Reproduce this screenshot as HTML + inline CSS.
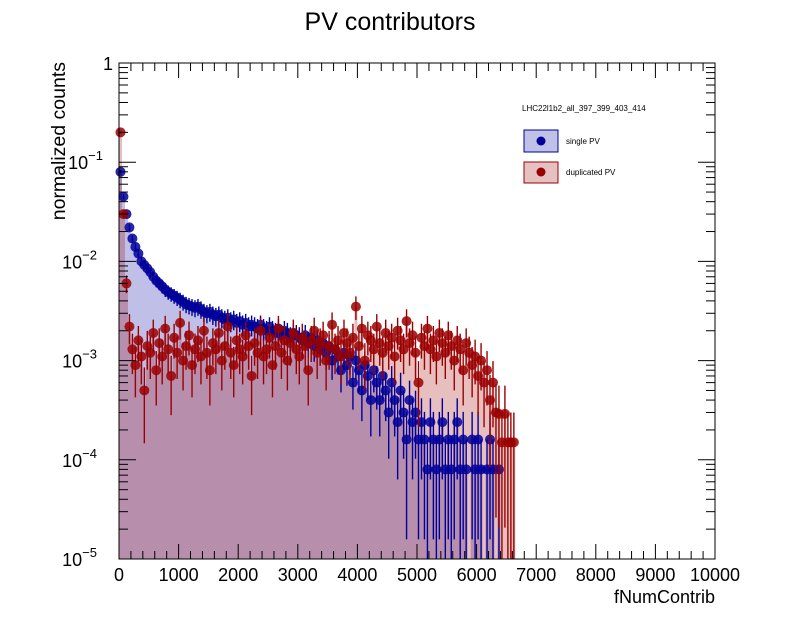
<!DOCTYPE html>
<html><head><meta charset="utf-8"><style>
body{margin:0;background:#fff;}
svg{font-family:"Liberation Sans",sans-serif;}
</style></head><body>
<svg id="c" width="796" height="622" xmlns="http://www.w3.org/2000/svg">
<text x="390" y="30" font-size="25" text-anchor="middle">PV contributors</text>
<text transform="translate(65,62) rotate(-90)" font-size="19.5" text-anchor="end">normalized counts</text>
<text x="715" y="603" font-size="18" text-anchor="end">fNumContrib</text>
<g id="fills"></g><g id="marks"></g><g id="axes"></g>
<g>
<text x="522" y="111" font-size="8">LHC22l1b2_all_397_399_403_414</text>
<rect x="524" y="130" width="34" height="22" fill="#bfc1e6" stroke="#00009a"/>
<circle cx="541" cy="141" r="4.5" fill="#00009a"/>
<text x="566" y="144" font-size="8">single PV</text>
<rect x="524" y="162" width="34" height="21" fill="#e6c1c1" stroke="#9a0000"/>
<circle cx="541" cy="172" r="4.5" fill="#9a0000"/>
<text x="566" y="175" font-size="8">duplicated PV</text>
</g>
</svg>
<script>
const binWidth = 50;
const xTicks = [0,1000,2000,3000,4000,5000,6000,7000,8000,9000,10000];
const yDecades = [0,-1,-2,-3,-4,-5];
const blueUnit = 1.3e-4, redUnit = 2.5e-4;
const singlePV = [0.08,0.045,0.03,0.022,0.017,0.014,0.012,0.010,0.0092,0.0085,
0.0078,0.0070,0.0064,0.0060,0.0056,0.0052,0.0049,0.0047,0.0045,0.0043,
0.0041,0.0039,0.0037,0.0036,0.0035,0.0034,0.0035,0.0033,0.0031,0.0030,
0.0031,0.0029,0.0028,0.0029,0.0027,0.0026,0.0027,0.0025,0.0026,0.0024,
0.0025,0.0023,0.0024,0.0022,0.0023,0.0022,0.0021,0.0023,0.0021,0.0020,
0.0022,0.0020,0.0019,0.0021,0.0018,0.0020,0.0019,0.0017,0.0019,0.0018,
0.0017,0.0016,0.0018,0.0015,0.0017,0.0014,0.0016,0.0013,0.0015,0.0012,
0.0014,0.0010,0.0013,0.0011,0.0008,0.0012,0.0009,0.0011,0.0006,0.0010,
0.0008,0.0005,0.0009,0.0007,0.0004,0.0008,0.0006,0.0004,0.0007,0.0005,
0.0003,0.0006,0.0004,0.00024,0.0005,0.0003,0.00016,0.0004,0.00024,0.0003,
0.00016,0.00024,0.00016,0.00008,0.00024,0.00016,0.00008,0.00016,0.00024,0.00008,
0.00016,0.00008,0.00016,0.00024,0.00008,0.00016,0.00008,0,0.00016,0.00008,
0.00016,0.00008,0,0.00008,0.00016,0.00008,0,0.00008];
const duplicatedPV = [0.2,0.03,0.006,0.0022,0.0013,0.0009,0.0016,0.0011,0.0005,0.0014,
0.0012,0.0019,0.0008,0.0015,0.0011,0.0021,0.0013,0.0007,0.0017,0.0012,
0.0024,0.0010,0.0014,0.0018,0.0009,0.0013,0.0016,0.0011,0.0020,0.0012,
0.0008,0.0015,0.0013,0.0019,0.0010,0.0014,0.0022,0.0012,0.0009,0.0016,
0.0013,0.0011,0.0018,0.0014,0.0007,0.0015,0.0012,0.0020,0.0011,0.0013,
0.0017,0.0009,0.0014,0.0021,0.0012,0.0016,0.0010,0.0015,0.0019,0.0013,
0.0011,0.0017,0.0014,0.0008,0.0016,0.0020,0.0012,0.0015,0.0018,0.0010,
0.0014,0.0023,0.0013,0.0016,0.0011,0.0019,0.0015,0.0012,0.0017,0.0035,
0.0014,0.0021,0.0010,0.0018,0.0016,0.0013,0.0022,0.0015,0.0012,0.0019,
0.0014,0.0017,0.0011,0.0020,0.0016,0.0013,0.0025,0.0015,0.0018,0.0012,
0.0006,0.0017,0.0014,0.0021,0.0013,0.0016,0.0011,0.0019,0.0015,0.0012,
0.0018,0.0014,0.0010,0.0016,0.0013,0.0008,0.0015,0.0012,0.0009,0.0011,
0.0007,0.0010,0.0006,0.0008,0.0004,0.0006,0.0003,0.00029,0.00015,0.00029,
0.00015,0.00015,0.00015];

const NS="http://www.w3.org/2000/svg";
const X0=119,X1=715,Y0=63,Y1=559;
function xs(v){return X0+(v-0)/10000*(X1-X0);}
function ys(v){if(v<=1e-5)return Y1;return Y0+(0-Math.log10(v))/5*(Y1-Y0);}
function mk(tag,attrs,parent){const e=document.createElementNS(NS,tag);for(const k in attrs)e.setAttribute(k,attrs[k]);parent.appendChild(e);return e;}
const fills=document.getElementById('fills'),marks=document.getElementById('marks'),axes=document.getElementById('axes');

function drawFill(data,color,name){
  let d='M'+xs(0)+','+Y1;
  data.forEach((v,i)=>{d+=' L'+xs(i*binWidth)+','+ys(v)+' L'+xs((i+1)*binWidth)+','+ys(v);});
  d+=' L'+xs(data.length*binWidth)+','+Y1+' Z';
  const p=mk('path',{d:d,fill:color},fills);
  
  
}
drawFill(singlePV,'rgba(0,0,160,0.25)','single-pv-fill');
drawFill(duplicatedPV,'rgba(160,0,0,0.25)','duplicated-pv-fill');

function drawPoints(data,unit,color,name){
  const g=mk('g',{},marks);
  
  
  data.forEach((v,i)=>{
    if(v<=0)return;
    const cx=xs((i+0.5)*binWidth);
    const n=Math.max(1,v/unit),err=v/Math.sqrt(n);
    const hi=ys(v+err),lo=ys(v-err<=1e-5?0:v-err);
    mk('line',{x1:cx,x2:cx,y1:hi,y2:Math.min(lo,Y1),stroke:color,'stroke-width':1.4},g);
    const c=mk('circle',{cx:cx,cy:ys(v),r:5,fill:color,'fill-opacity':0.85},g);
    
    
  });
}
drawPoints(singlePV,blueUnit,'#00009a','single-pv-series');
drawPoints(duplicatedPV,redUnit,'#9a0000','duplicated-pv-series');

const fr=mk('rect',{x:X0,y:Y0,width:X1-X0,height:Y1-Y0,fill:'none',stroke:'#000','stroke-width':1},axes);


for(let v=0;v<=10000;v+=200){
  const x=xs(v),L=(v%1000===0)?15:8;
  mk('line',{x1:x,x2:x,y1:Y1,y2:Y1-L,stroke:'#000'},axes);
  mk('line',{x1:x,x2:x,y1:Y0,y2:Y0+L,stroke:'#000'},axes);
}
xTicks.forEach(v=>{
  const t=mk('text',{x:xs(v),y:Y1+22,'font-size':18,'text-anchor':'middle'},axes);
  t.textContent=v;
  
  
});
yDecades.forEach(e=>{
  const y=ys(Math.pow(10,e));
  mk('line',{x1:X0,x2:X0+17,y1:y,y2:y,stroke:'#000'},axes);
  mk('line',{x1:X1,x2:X1-17,y1:y,y2:y,stroke:'#000'},axes);
  if(e>-5)for(let m=2;m<=9;m++){
    const ym=ys(m*Math.pow(10,e-1));
    mk('line',{x1:X0,x2:X0+9,y1:ym,y2:ym,stroke:'#000'},axes);
    mk('line',{x1:X1,x2:X1-9,y1:ym,y2:ym,stroke:'#000'},axes);
  }
  const t=mk('text',{x:X0-6,y:y+7,'font-size':18,'text-anchor':'end'},axes);
  
  
  if(e===0){t.textContent='1';}
  else{
    t.setAttribute('x',X0-6-(e===-1?10:16));
    t.textContent='10';
    const s=mk('tspan',{'font-size':13,dy:-9},t);
    s.textContent=String(e).replace('-','\u2212');
  }
});
</script>
</body></html>
